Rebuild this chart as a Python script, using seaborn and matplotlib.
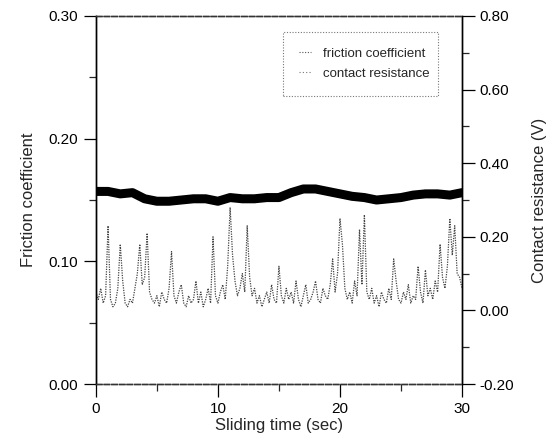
import numpy as np
import pandas as pd
import matplotlib
matplotlib.use("Agg")
import matplotlib.pyplot as plt
from matplotlib.lines import Line2D
import seaborn as sns

# ---- data ----
time_fc = list(range(0, 31))
friction = [0.157, 0.157, 0.155, 0.156, 0.151, 0.149, 0.149, 0.150, 0.151, 0.151,
            0.149, 0.152, 0.151, 0.151, 0.152, 0.152, 0.156, 0.159, 0.159, 0.157,
            0.155, 0.153, 0.152, 0.150, 0.151, 0.152, 0.154, 0.155, 0.155, 0.154,
            0.156]

time_cr = [round(i * 0.2, 1) for i in range(151)]
contact_res = [
    0.05, 0.03, 0.06, 0.02, 0.04,
    0.23, 0.03, 0.01, 0.02, 0.06,
    0.18, 0.08, 0.02, 0.01, 0.03,
    0.02, 0.06, 0.10, 0.18, 0.07,
    0.09, 0.21, 0.05, 0.03, 0.02,
    0.04, 0.01, 0.05, 0.03, 0.02,
    0.06, 0.16, 0.04, 0.02, 0.05,
    0.07, 0.02, 0.01, 0.04, 0.02,
    0.03, 0.08, 0.02, 0.05, 0.01,
    0.03, 0.06, 0.02, 0.20, 0.04,
    0.02, 0.05, 0.07, 0.03, 0.12,
    0.28, 0.15, 0.08, 0.04, 0.06,
    0.10, 0.05, 0.23, 0.09, 0.04,
    0.06, 0.02, 0.04, 0.01, 0.03,
    0.05, 0.02, 0.07, 0.03, 0.02,
    0.12, 0.04, 0.02, 0.06, 0.03,
    0.05, 0.02, 0.08, 0.03, 0.01,
    0.04, 0.07, 0.02, 0.03, 0.05,
    0.08, 0.03, 0.02, 0.06, 0.04,
    0.03, 0.07, 0.14, 0.05, 0.10,
    0.25, 0.18, 0.06, 0.03, 0.05,
    0.02, 0.08, 0.04, 0.22, 0.07,
    0.26, 0.05, 0.03, 0.06, 0.02,
    0.04, 0.01, 0.05, 0.03, 0.02,
    0.06, 0.03, 0.14, 0.08, 0.03,
    0.02, 0.05, 0.03, 0.07, 0.02,
    0.04, 0.03, 0.12, 0.05, 0.02,
    0.11, 0.04, 0.06, 0.03, 0.08,
    0.05, 0.18, 0.09, 0.06, 0.12,
    0.25, 0.15, 0.23, 0.10, 0.09,
    0.06,
]

left_ticks = [0.00, 0.10, 0.20, 0.30]
right_ticks = [-0.20, 0.00, 0.20, 0.40, 0.60, 0.80]
x_ticks = [0, 10, 20, 30]
legend_labels = ["friction coefficient", "contact resistance"]

# ---- figure ----
sns.set_style("ticks")
plt.rcParams["font.family"] = ["Liberation Sans", "DejaVu Sans"]

fig = plt.figure(figsize=(5.54, 4.43), dpi=100)
ax = fig.add_axes([0.173, 0.133, 0.661, 0.831])
ax2 = ax.twinx()

df_fc = pd.DataFrame({"t": time_fc, "f": friction})
df_cr = pd.DataFrame({"t": time_cr, "v": contact_res})

sns.lineplot(data=df_cr, x="t", y="v", ax=ax2, color="#444444",
             linewidth=0.9, linestyle=(0, (1, 1)))
sns.lineplot(data=df_fc, x="t", y="f", ax=ax, color="black", linewidth=6.5)

ax.set_xlim(0, 30)
ax.set_ylim(0, 0.30)
ax2.set_ylim(-0.20, 0.80)

ax.set_xticks(x_ticks)
ax.set_xticks([5, 15, 25], minor=True)
ax.set_yticks(left_ticks)
ax.set_yticks([0.05, 0.15, 0.25], minor=True)
ax.set_yticklabels([f"{v:.2f}" for v in left_ticks])
ax2.set_yticks(right_ticks)
ax2.set_yticks([-0.10, 0.10, 0.30, 0.50, 0.70], minor=True)
ax2.set_yticklabels([f"{v:.2f}" for v in right_ticks])

for a in (ax, ax2):
    a.tick_params(which="major", direction="out", length=9, width=0.9,
                  labelsize=11, colors="black")
    a.tick_params(which="minor", direction="out", length=5, width=0.9)
ax.tick_params(axis="x", pad=4)

ax.set_xlabel("Sliding time (sec)", fontsize=12, labelpad=1)
ax.set_ylabel("Friction coefficient", fontsize=12, labelpad=9)
ax2.set_ylabel("Contact resistance (V)", fontsize=12, labelpad=13)

for a in (ax, ax2):
    for side in ("left", "right"):
        a.spines[side].set_visible(True)
        a.spines[side].set_linewidth(1.0)
        a.spines[side].set_color("black")
    for side in ("top", "bottom"):
        a.spines[side].set_visible(True)
        a.spines[side].set_linewidth(1.0)
        a.spines[side].set_color("#333333")
        a.spines[side].set_linestyle((0, (4, 1.5)))

handles = [Line2D([], [], color="#555555", linestyle=(0, (1, 1.5)), linewidth=0.8),
           Line2D([], [], color="#777777", linestyle=(0, (1, 2)), linewidth=0.8)]
leg = ax2.legend(handles, legend_labels, loc="upper left",
                 bbox_to_anchor=(0.511, 0.957, 0.423, 0.0), mode="expand",
                 fontsize=9.5, frameon=True,
                 fancybox=False, borderpad=1.2, labelspacing=0.6,
                 handlelength=0.9, handletextpad=0.9, borderaxespad=0)
frame = leg.get_frame()
frame.set_edgecolor("#555555")
frame.set_linewidth(0.8)
frame.set_linestyle((0, (1, 1.5)))

fig.savefig("out.png", dpi=100)
